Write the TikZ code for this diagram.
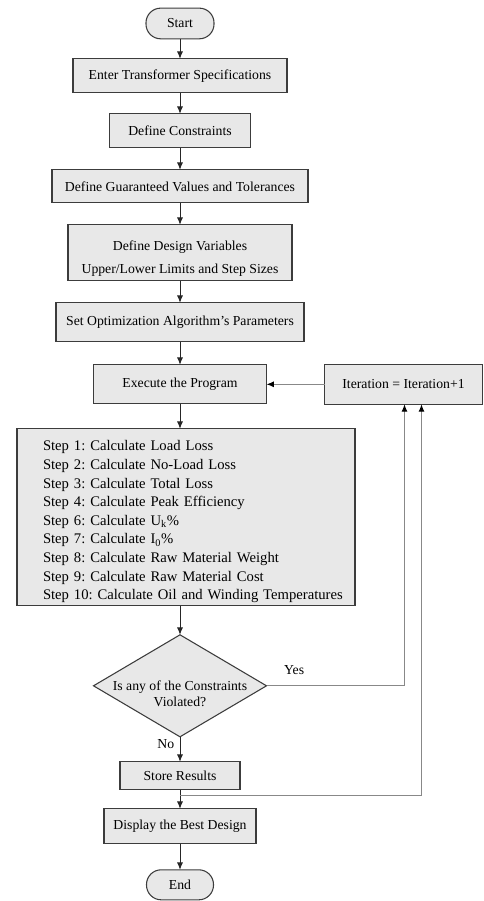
\documentclass[tikz,border=0pt]{standalone}
\usepackage{fontspec}
\setmainfont{Liberation Serif}
\usepackage{tikz}
\usetikzlibrary{positioning,shapes.geometric,arrows.meta,calc}
\definecolor{boxfill} {HTML}{E8E8E8}
\definecolor{boxline} {HTML}{3C3C3C}
\definecolor{backline}{HTML}{888888}
\tikzset{
  every node/.style={font=\fontsize{10.3}{12.5}\selectfont},
  % --- nodes
  proc/.style  = {rectangle, draw=boxline, fill=boxfill, line width=0.8pt,
                  align=center, inner sep=0pt, outer sep=0pt},
  term/.style  = {proc, rounded corners=11pt, minimum width=51pt,
                  minimum height=23pt},
  decide/.style= {diamond, draw=boxline, fill=boxfill, line width=0.8pt,
                  align=center, aspect=1.7, inner sep=-6.5pt, outer sep=0pt,
                  minimum width=129.75pt, minimum height=76.5pt},
  lbl/.style   = {inner sep=1pt},
  % --- edges
  e/.style     = {-{Latex[length=5.5pt,width=4.5pt]}, line width=0.7pt, draw=black!85},
  eback/.style = {-{Latex[length=5.5pt,width=4.5pt,black]}, line width=0.8pt,
                  draw=backline},
}
\begin{document}
\begin{tikzpicture}
  \useasboundingbox (0,0) rectangle (362.25pt,-675.75pt);

  \node[term] (start) at (135pt,-17.6pt) {Start};
  \node[proc, minimum width=160.5pt, minimum height=25.5pt, below=15pt of start] (spec)
        {Enter Transformer Specifications};
  \node[proc, minimum width=105.75pt, minimum height=25.5pt, below=15.75pt of spec] (cons)
        {Define Constraints};
  \node[proc, minimum width=192pt, minimum height=24.75pt, below=16.5pt of cons] (guar)
        {Define Guaranteed Values and Tolerances};
  \node[proc, minimum width=168pt, minimum height=42pt, below=16.5pt of guar,
        font=\fontsize{10.3}{17}\selectfont] (vars)
        {\rule{0pt}{16pt}Define Design Variables\\Upper/Lower Limits and Step Sizes};
  \node[proc, minimum width=186pt, minimum height=29.25pt, below=16.5pt of vars] (param)
        {Set Optimization Algorithm's Parameters};
  \node[proc, minimum width=129.75pt, minimum height=29.25pt, below=17.25pt of param] (exec)
        {Execute the Program};
  \node[proc, minimum width=118.5pt, minimum height=30pt, right=43.5pt of exec] (iter)
        {Iteration = Iteration+1};

  \node[proc, text width=253.5pt, minimum height=132.75pt, align=left,
        font=\fontsize{11}{13.95}\selectfont,
        below=18.75pt of exec, xshift=4.5pt] (steps)
        {\frenchspacing\leftskip=19.5pt
         \rule{0pt}{14.5pt}Step 1: Calculate Load Loss\\
         Step 2: Calculate No-Load Loss\\
         Step 3: Calculate Total Loss\\
         Step 4: Calculate Peak Efficiency\\
         Step 6: Calculate U\textsubscript{k}\%\\
         Step 7: Calculate I\textsubscript{0}\%\\
         Step 8: Calculate Raw Material Weight\\
         Step 9: Calculate Raw Material Cost\\
         Step 10: Calculate Oil and Winding Temperatures\par};

  \node[decide, below=21.75pt of exec.south |- steps.south] (check)
        {\rule{0pt}{19pt}Is any of the Constraints\\Violated?};
  \node[proc, minimum width=90pt, minimum height=21pt, below=18.75pt of check] (store)
        {Store Results};
  \node[proc, minimum width=114pt, minimum height=26.25pt, below=14.25pt of store] (best)
        {Display the Best Design};
  \node[term, minimum width=50.25pt, minimum height=22.5pt, below=19.5pt of best] (stop)
        {End};
  \coordinate (merge) at ($(store.south)!0.32!(best.north)$);

  \foreach \a/\b in {start/spec,spec/cons,cons/guar,guar/vars,vars/param,param/exec}
    \draw[e] (\a) -- (\b);
  \draw[e] (exec.south) -- (exec.south |- steps.north);
  \draw[e] (exec.south |- steps.south) -- (check.north);
  \draw[e] (check.south) -- node[lbl, left, pos=0.3, xshift=-3pt] {No} (store.north);
  \draw[e] (store) -- (best);
  \draw[e] (best) -- (stop);

  \draw[eback] (iter) -- (exec);
  \draw[eback] (check.east) -| node[lbl, above=7pt, pos=0.1] {Yes} ([xshift=0.75pt]iter.south);
  \draw[eback] (merge) -| ([xshift=13.5pt]iter.south);
\end{tikzpicture}
\end{document}
